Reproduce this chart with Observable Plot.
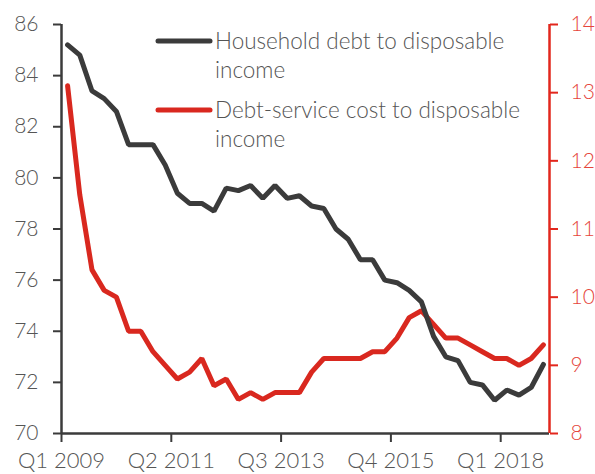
<!DOCTYPE html>
<html>
<head>
<meta charset="utf-8">
<script src="https://cdn.jsdelivr.net/npm/d3@7"></script>
<script src="https://cdn.jsdelivr.net/npm/@observablehq/plot@0.6"></script>
<style>
  html, body { margin: 0; padding: 0; background: #fff; }
  #chart svg { display: block; }
</style>
</head>
<body>
<div id="chart"></div>
<script>
// Quarterly data, Q1 2009 .. Q4 2018 (40 quarters)
const householdDebt = [
  85.2, 84.8, 83.4, 83.1, 82.6, 81.3, 81.3, 81.3, 80.5, 79.4,
  79.0, 79.0, 78.7, 79.6, 79.5, 79.7, 79.2, 79.7, 79.2, 79.3,
  78.9, 78.8, 78.0, 77.6, 76.8, 76.8, 76.0, 75.9, 75.6, 75.15,
  73.8, 73.0, 72.85, 72.0, 71.9, 71.3, 71.7, 71.5, 71.8, 72.7
];
const debtService = [
  13.1, 11.5, 10.4, 10.1, 10.0, 9.5, 9.5, 9.2, 9.0, 8.8,
  8.9, 9.1, 8.7, 8.8, 8.5, 8.6, 8.5, 8.6, 8.6, 8.6,
  8.9, 9.1, 9.1, 9.1, 9.1, 9.2, 9.2, 9.4, 9.7, 9.8,
  9.6, 9.4, 9.4, 9.3, 9.2, 9.1, 9.1, 9.0, 9.1, 9.3
];
const xTickIndex = [0, 9, 18, 27, 36];
const xTickLabels = ["Q1 2009", "Q2 2011", "Q3 2013", "Q4 2015", "Q1 2018"];
const leftTicks = [70, 72, 74, 76, 78, 80, 82, 84, 86];
const rightTicks = [8, 9, 10, 11, 12, 13, 14];
const seriesNames = ["Household debt to disposable\nincome", "Debt-service cost to disposable\nincome"];

const L = [70, 86], R = [8, 14];
const toLeft = v => L[0] + (v - R[0]) * (L[1] - L[0]) / (R[1] - R[0]);
const toRight = v => R[0] + (v - L[0]) * (R[1] - R[0]) / (L[1] - L[0]);

const DARK = "#3b3b3b", GREY = "#555555", RED = "#d9281f", RED_AXIS = "#e2271d", RED_TXT = "#e5463c";
const FONT = "Lato, 'Open Sans', sans-serif";

const chart = Plot.plot({
  width: 595,
  height: 474,
  marginLeft: 61,
  marginRight: 46,
  marginTop: 24,
  marginBottom: 41,
  style: { fontFamily: FONT, background: "#fff" },
  x: { domain: [0, 40] },
  y: { domain: L },
  marks: [
    Plot.axisY({ticks: leftTicks, tickSize: 8, tickPadding: 15, stroke: DARK, strokeWidth: 2, fill: GREY, fontSize: 21, fontWeight: 300}),
    Plot.axisY({anchor: "right", ticks: rightTicks.map(toLeft), tickFormat: d => String(Math.round(toRight(d))), tickSize: 8, tickPadding: 13, stroke: RED_AXIS, strokeWidth: 2, fill: RED_TXT, fontSize: 21, fontWeight: 300}),
    Plot.axisX({ticks: xTickIndex, tickFormat: d => xTickLabels[xTickIndex.indexOf(d)], tickSize: 9, tickPadding: 10, stroke: DARK, strokeWidth: 2, fill: GREY, fontSize: 22, fontWeight: 300}),
    Plot.ruleY([L[0]], {stroke: DARK, strokeWidth: 2.5}),
    Plot.ruleX([0], {stroke: DARK, strokeWidth: 2.5}),
    Plot.ruleX([40], {stroke: RED_AXIS, strokeWidth: 2.5}),
    Plot.line(debtService, {x: (d, i) => i + 0.5, y: d => toLeft(d), stroke: RED, strokeWidth: 5, strokeLinejoin: "miter", strokeLinecap: "round"}),
    Plot.line(householdDebt, {x: (d, i) => i + 0.5, y: d => d, stroke: DARK, strokeWidth: 5, strokeLinejoin: "miter", strokeLinecap: "round"})
  ]
});

// Legend inside the plot area
const svg = d3.select(chart);
const legend = svg.append("g").attr("font-family", FONT).attr("font-size", 22.5).attr("font-weight", 300)
  .attr("fill", GREY).attr("text-anchor", "start");
const items = [
  {name: seriesNames[0], color: DARK, y: 41},
  {name: seriesNames[1], color: RED, y: 110}
];
items.forEach(it => {
  legend.append("line").attr("x1", 158).attr("x2", 210).attr("y1", it.y).attr("y2", it.y)
    .attr("stroke", it.color).attr("stroke-width", 5).attr("stroke-linecap", "round");
  const lines = it.name.split("\n");
  lines.forEach((t, k) => {
    legend.append("text").attr("x", 215).attr("y", it.y + 8 + k * 29).attr("text-anchor", "start").text(t);
  });
});

document.getElementById("chart").append(chart);
</script>
</body>
</html>
